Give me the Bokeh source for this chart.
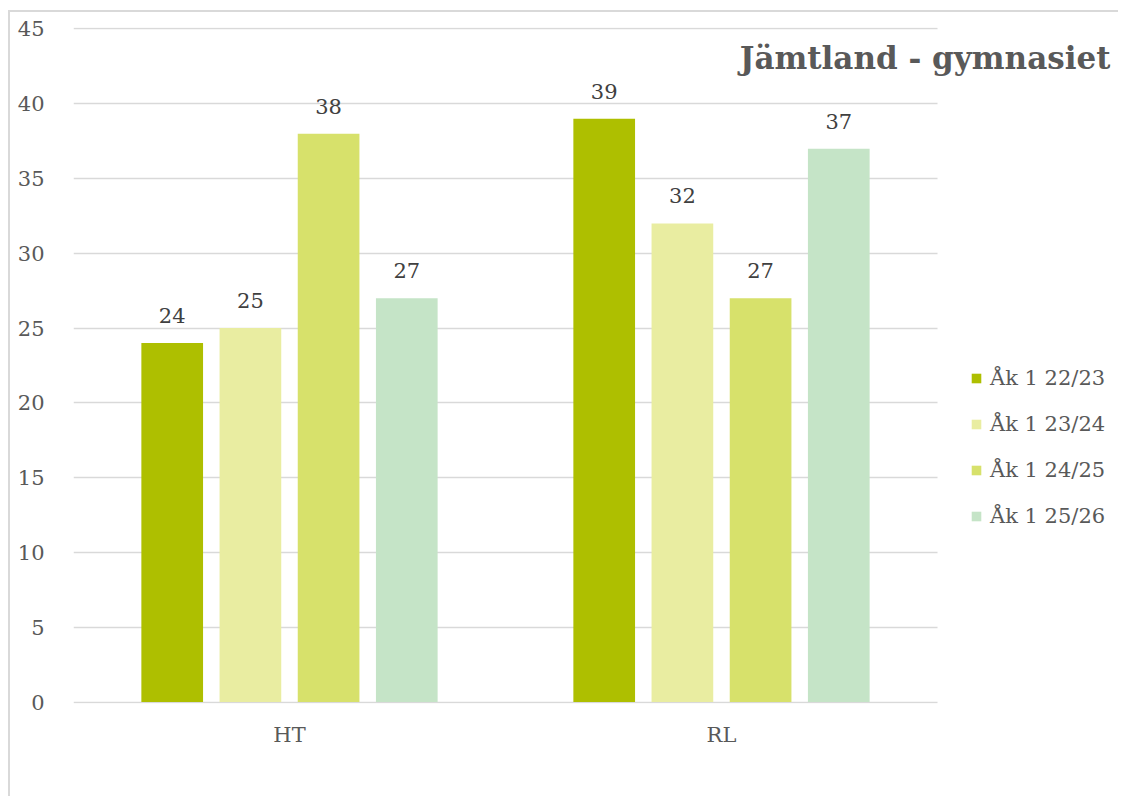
from bokeh.plotting import figure
from bokeh.models import ColumnDataSource, Legend, LegendItem, Label, SingleIntervalTicker, FixedTicker, Range1d
from bokeh.transform import dodge
from bokeh.core.properties import value
from bokeh.embed import file_html
from bokeh.resources import INLINE

categories = ["HT", "RL"]
series_names = ["Åk 1 22/23", "Åk 1 23/24", "Åk 1 24/25", "Åk 1 25/26"]
ak_22_23 = [24, 39]
ak_23_24 = [25, 32]
ak_24_25 = [38, 27]
ak_25_26 = [27, 37]
series_values = [ak_22_23, ak_23_24, ak_24_25, ak_25_26]
colors = ["#AEBF00", "#E9EDA1", "#D7E16B", "#C5E4C7"]
title_text = "Jämtland - gymnasiet"

FONT = "DejaVu Serif"
TXT = "#595959"

n = len(categories)
positions = [i + 0.5 for i in range(n)]

p = figure(
    x_range=Range1d(0, 2.4005),
    y_range=Range1d(-0.1, 45.1),
    width=1110, height=786,
    output_backend="svg", toolbar_location=None,
    min_border_left=63, min_border_right=10,
    min_border_top=15, min_border_bottom=95,
    styles={"border-top": "2px solid #d9d9d9", "border-left": "2px solid #d9d9d9",
            "margin-left": "8px", "margin-top": "10px"},
)
p.outline_line_color = None
p.xgrid.grid_line_color = None
p.ygrid.grid_line_color = "#d9d9d9"
p.ygrid.grid_line_width = 1.5
p.ygrid.cross_bounds = (0, n)
p.yaxis.ticker = SingleIntervalTicker(interval=5)
p.xaxis.ticker = FixedTicker(ticks=positions)
p.xaxis.major_label_overrides = {pos: cat for pos, cat in zip(positions, categories)}
for ax in (p.xaxis, p.yaxis):
    ax.axis_line_color = None
    ax.major_tick_line_color = None
    ax.minor_tick_line_color = None
    ax.major_tick_out = 0
    ax.major_tick_in = 0
    ax.major_label_text_font = FONT
    ax.major_label_text_font_size = "21px"
    ax.major_label_text_color = TXT
p.yaxis.major_label_standoff = 25
p.xaxis.major_label_standoff = 19

pitch = 0.181
width = 0.1428
offsets = [-1.5 * pitch, -0.5 * pitch, 0.5 * pitch, 1.5 * pitch]

items = []
for name, vals, col, off in zip(series_names, series_values, colors, offsets):
    src = ColumnDataSource(dict(pos=positions, val=vals, lbl=[str(v) for v in vals]))
    r = p.vbar(x=dodge("pos", off), top="val", width=width, source=src,
               fill_color=col, line_color=None)
    p.text(x=dodge("pos", off), y="val", text="lbl", source=src,
           text_align="center", text_baseline="bottom", y_offset=-20,
           text_font=value(FONT), text_font_size="21px", text_color="#404040")
    items.append(LegendItem(label=name, renderers=[r]))

legend = Legend(items=items, location=(897, 175), padding=0, margin=0,
                border_line_color=None, background_fill_alpha=0,
                glyph_width=12, glyph_height=12, label_height=24, spacing=22,
                label_standoff=8, label_text_font=FONT, label_text_font_size="21px",
                label_text_color=TXT)
p.add_layout(legend, "center")

title = Label(x=1037, y=646, x_units="screen", y_units="screen", text=title_text,
              text_align="right", text_baseline="middle", text_font=FONT,
              text_font_size="31px", text_font_style="bold", text_color=TXT)
p.add_layout(title)

open("out.html", "w").write(file_html(p, INLINE))
